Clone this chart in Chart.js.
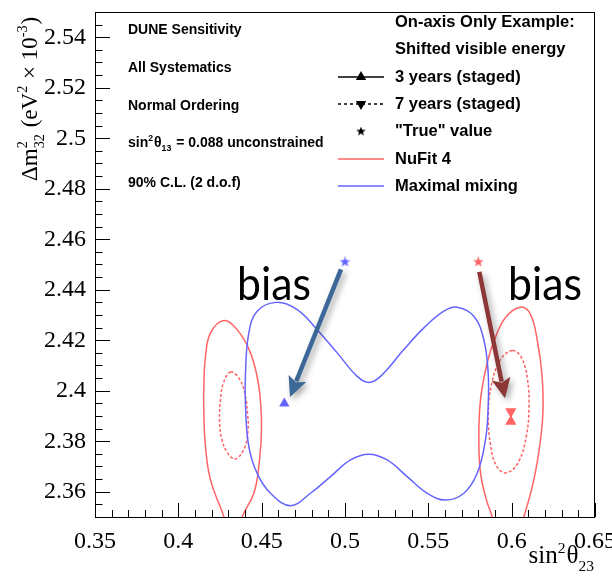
<!DOCTYPE html>
<html>
<head>
<meta charset="utf-8">
<script src="https://cdn.jsdelivr.net/npm/chart.js@4.4.1/dist/chart.umd.min.js"></script>
<style>
body{margin:0;background:#fff;}
canvas{display:block;}
</style>
</head>
<body>
<canvas id="myChart" width="612" height="577"></canvas>
<script>
// ------------------------------------------------------------------------------------------------- data section
var x_tick_values = [0.35, 0.40, 0.45, 0.50, 0.55, 0.60, 0.65];
var y_tick_values = [2.36, 2.38, 2.40, 2.42, 2.44, 2.46, 2.48, 2.50, 2.52, 2.54];

// NuFit 4 true value, 3 years (solid) and 7 years (dashed), lower octant island
var nufit_3yr_lo = [[0.4273,2.4278],[0.4353,2.4242],[0.4433,2.4150],[0.4483,2.4017],[0.4499,2.3858],[0.4483,2.3700],
    [0.4453,2.3594],[0.4383,2.3501],[0.4355,2.3440],[0.4325,2.3401],[0.4295,2.3440],[0.4273,2.3501],[0.4193,2.3647],
    [0.4163,2.3779],[0.4153,2.3912],[0.4153,2.4017],[0.4163,2.4136],[0.4193,2.4229]];
var nufit_7yr_lo = [[0.4313,2.4074],[0.4361,2.4052],[0.4397,2.3996],[0.4415,2.3913],[0.4418,2.3845],[0.4397,2.3774],
    [0.4343,2.3730],[0.4295,2.3754],[0.4259,2.3813],[0.4247,2.3885],[0.4253,2.3964],[0.4271,2.4032]];
// upper octant island
var nufit_3yr_hi = [[0.6053,2.4331],[0.6113,2.4302],[0.6153,2.4202],[0.6182,2.4063],[0.6188,2.3925],[0.6173,2.3806],
    [0.6133,2.3647],[0.6073,2.3501],[0.6029,2.3421],[0.5969,2.3361],[0.5909,2.3421],[0.5883,2.3501],[0.5849,2.3567],
    [0.5813,2.3675],[0.5803,2.3806],[0.5813,2.3964],[0.5853,2.4110],[0.5897,2.4202],[0.5963,2.4290]];
var nufit_7yr_hi = [[0.6005,2.4159],[0.6059,2.4131],[0.6095,2.4044],[0.6104,2.3933],[0.6089,2.3825],[0.6041,2.3718],
    [0.5969,2.3675],[0.5909,2.3702],[0.5873,2.3786],[0.5860,2.3905],[0.5879,2.4024],[0.5933,2.4123]];
// maximal mixing, 3 years
var maxmix_3yr = [[0.4589,2.4350],[0.4713,2.4321],[0.4833,2.4242],[0.4953,2.4150],[0.5073,2.4057],[0.5143,2.4033],
    [0.5213,2.4057],[0.5353,2.4163],[0.5473,2.4249],[0.5593,2.4315],[0.5673,2.4331],[0.5773,2.4295],[0.5833,2.4202],
    [0.5859,2.4070],[0.5859,2.3938],[0.5843,2.3806],[0.5793,2.3673],[0.5713,2.3594],[0.5603,2.3567],[0.5493,2.3594],
    [0.5373,2.3660],[0.5253,2.3726],[0.5143,2.3749],[0.5033,2.3726],[0.4913,2.3660],[0.4793,2.3594],[0.4673,2.3545],
    [0.4553,2.3594],[0.4473,2.3673],[0.4423,2.3779],[0.4403,2.3938],[0.4403,2.4070],[0.4423,2.4229],[0.4473,2.4315]];

// best fit points and true values
var maxmix_3yr_fit = [0.4636, 2.3950];
var nufit_3yr_fit = [0.5995, 2.3878];
var nufit_7yr_fit = [0.5995, 2.3918];
var maxmix_true = [0.50, 2.451];
var nufit_true = [0.58, 2.451];

// bias arrows: from true value towards fitted point
var bias_arrow_blue = [[0.4976, 2.4481], [0.4670, 2.3975]];
var bias_arrow_red = [[0.5806, 2.4471], [0.5960, 2.3970]];

var info_lines = ['DUNE Sensitivity', 'All Systematics', 'Normal Ordering', 'sin2theta13', '90% C.L. (2 d.o.f)'];
var legend_labels = ['On-axis Only Example:', 'Shifted visible energy', '3 years (staged)', '7 years (staged)',
    '"True" value', 'NuFit 4', 'Maximal mixing'];

var red_col = '#ff6363';
var blue_col = '#6464ff';

// -------------------------------------------------------------------------------------------------helpers
function to_pts(arr) {
    return arr.map(function (p) { return {x: p[0], y: p[1]}; });
}

function make_star(color, size) {
    var c = document.createElement('canvas');
    c.width = size; c.height = size;
    var g = c.getContext('2d');
    var R = size / 2, r = R * 0.42;
    g.fillStyle = color;
    g.beginPath();
    for (var i = 0; i < 10; i++) {
        var ang = -Math.PI / 2 + i * Math.PI / 5;
        var rad = (i % 2 == 0) ? R : r;
        g.lineTo(R + rad * Math.cos(ang), R + rad * Math.sin(ang));
    }
    g.closePath();
    g.fill();
    return c;
}

// draws text pieces with sup/sub, returns width
function rich(ctx, parts, x, y, size, family, weight, only_measure) {
    var cx = x;
    parts.forEach(function (p) {
        var mode = p[1] || '';
        if (mode == '') {
            ctx.font = weight + ' ' + size + 'px ' + family;
            if (!only_measure) ctx.fillText(p[0], cx, y);
            cx += ctx.measureText(p[0]).width;
        } else {
            ctx.font = weight + ' ' + (size * 0.62) + 'px ' + family;
            var w1 = 0, w2 = 0;
            if (mode == 'sup' || mode == 'supsub') {
                w1 = ctx.measureText(p[0]).width;
                if (!only_measure) ctx.fillText(p[0], cx, y - size * 0.42);
            }
            if (mode == 'sub') {
                w2 = ctx.measureText(p[0]).width;
                if (!only_measure) ctx.fillText(p[0], cx, y + size * 0.3);
            }
            if (mode == 'supsub') {
                w2 = ctx.measureText(p[2]).width;
                if (!only_measure) ctx.fillText(p[2], cx, y + size * 0.3);
            }
            cx += Math.max(w1, w2) + 1;
        }
    });
    return cx - x;
}

function triangle(ctx, x, y, r, down) {
    var s = down ? -1 : 1;
    ctx.beginPath();
    ctx.moveTo(x, y - s * r);
    ctx.lineTo(x + r * 0.866, y + s * r * 0.5);
    ctx.lineTo(x - r * 0.866, y + s * r * 0.5);
    ctx.closePath();
    ctx.fill();
}

function arrow(ctx, x0, y0, x1, y1, color) {
    var ang = Math.atan2(y1 - y0, x1 - x0);
    var head = 20, half = 9.5;
    var cs = Math.cos(ang), sn = Math.sin(ang);
    var bx = x1 - head * cs, by = y1 - head * sn;
    ctx.strokeStyle = color; ctx.fillStyle = color;
    ctx.lineWidth = 4.5; ctx.lineCap = 'butt';
    ctx.beginPath(); ctx.moveTo(x0, y0); ctx.lineTo(bx + 3 * cs, by + 3 * sn); ctx.stroke();
    ctx.beginPath();
    ctx.moveTo(x1, y1);
    ctx.lineTo(bx + half * sn, by - half * cs);
    ctx.lineTo(bx + 4 * cs, by + 4 * sn);
    ctx.lineTo(bx - half * sn, by + half * cs);
    ctx.closePath();
    ctx.fill();
}

function fmt(v) { return String(parseFloat(Number(v).toFixed(2))); }

// ------------------------------------------------------------------------------------------------ closed contours
var close_loops = {
    id: 'close_loops',
    afterDatasetUpdate: function (chart, args) {
        var ds = chart.data.datasets[args.index];
        if (ds.closed && args.meta.dataset) {
            args.meta.dataset._loop = true;
            args.meta.dataset._fullLoop = true;
        }
    }
};

// ------------------------------------------------------------------------------------------------ frame, ticks, texts
var deco = {
    id: 'deco',
    afterDraw: function (chart) {
        var ctx = chart.ctx, xs = chart.scales.x, ys = chart.scales.y, a = chart.chartArea;
        ctx.save();
        ctx.setLineDash([]);
        ctx.fillStyle = '#000';
        var L = Math.round(a.left), R = Math.round(a.right), T = Math.round(a.top), B = Math.round(a.bottom);
        ctx.fillRect(L, T, R - L, 1);
        ctx.fillRect(L, B, R - L, 1);
        ctx.fillRect(L, T, 1, B - T + 1);
        ctx.fillRect(R - 1, T, 1, B - T + 1);

        // inside ticks
        for (var i = 0; i <= 30; i++) {
            var px = Math.round(xs.getPixelForValue(0.35 + i * 0.01));
            var len = (i % 5 == 0) ? 14 : 7;
            ctx.fillRect(px, B - len, 1, len);
        }
        for (var j = 0; j <= 40; j++) {
            var py = Math.round(ys.getPixelForValue(2.35 + j * 0.005));
            var ylen = ((j - 2) % 4 == 0) ? 15 : 7.5;
            ctx.fillRect(L, py, ylen, 1);
        }

        // axis titles
        ctx.textBaseline = 'alphabetic'; ctx.textAlign = 'left';
        var serif = '"Liberation Serif", "Times New Roman", serif';
        var xt = [['sin'], ['2', 'sup'], ['\u03b8'], ['23', 'sub']];
        var wx = rich(ctx, xt, 0, 0, 25, serif, 'normal', true);
        rich(ctx, xt, R - wx, 563, 25, serif, 'normal');

        ctx.save();
        ctx.translate(37, 181);
        ctx.rotate(-Math.PI / 2);
        rich(ctx, [['\u0394m'], ['2', 'supsub', '32'], [' (eV'], ['2', 'sup'], [' \u00d7 10'], ['-3', 'sup'], [')']],
            0, 0, 23, serif, 'normal');
        ctx.restore();

        // info block (top left)
        var sans = '"Liberation Sans", Arial, sans-serif';
        var info_y = [34, 72, 110, 147, 187];
        for (var k = 0; k < info_lines.length; k++) {
            if (info_lines[k] == 'sin2theta13') {
                rich(ctx, [['sin'], ['2', 'sup'], ['\u03b8'], ['13', 'sub'], [' = 0.088 unconstrained']],
                    128, info_y[k], 14, sans, 'bold');
            } else {
                ctx.font = 'bold 14px ' + sans;
                ctx.fillText(info_lines[k], 128, info_y[k]);
            }
        }

        // legend (top right)
        var leg_y = [22, 49.5, 77, 104, 131.5, 159, 186];
        ctx.font = 'bold 16.5px ' + sans;
        ctx.textBaseline = 'middle';
        for (var m = 0; m < legend_labels.length; m++) {
            ctx.fillText(legend_labels[m], 395, leg_y[m]);
        }
        ctx.lineWidth = 1.5;
        ctx.strokeStyle = '#000';
        ctx.beginPath(); ctx.moveTo(338, leg_y[2]); ctx.lineTo(384, leg_y[2]); ctx.stroke();
        triangle(ctx, 361, leg_y[2], 6, false);
        ctx.setLineDash([3, 3]);
        ctx.beginPath(); ctx.moveTo(338, leg_y[3]); ctx.lineTo(384, leg_y[3]); ctx.stroke();
        ctx.setLineDash([]);
        triangle(ctx, 361, leg_y[3], 6, true);
        ctx.drawImage(make_star('#000', 10), 356, leg_y[4] - 5);
        ctx.strokeStyle = red_col;
        ctx.beginPath(); ctx.moveTo(338, leg_y[5]); ctx.lineTo(384, leg_y[5]); ctx.stroke();
        ctx.strokeStyle = blue_col;
        ctx.beginPath(); ctx.moveTo(338, leg_y[6]); ctx.lineTo(384, leg_y[6]); ctx.stroke();

        // bias arrows with soft shadow
        ctx.shadowColor = 'rgba(0,0,0,0.35)';
        ctx.shadowBlur = 6; ctx.shadowOffsetX = 3; ctx.shadowOffsetY = 3;
        [[bias_arrow_blue, '#3c6897'], [bias_arrow_red, '#8c3636']].forEach(function (b) {
            var p0 = b[0][0], p1 = b[0][1];
            arrow(ctx, xs.getPixelForValue(p0[0]), ys.getPixelForValue(p0[1]),
                xs.getPixelForValue(p1[0]), ys.getPixelForValue(p1[1]), b[1]);
        });
        ctx.shadowColor = 'rgba(0,0,0,0)';

        ctx.fillStyle = '#000';
        ctx.textBaseline = 'alphabetic';
        ctx.font = '46px Lato, "Open Sans", sans-serif';
        ctx.fillText('bias', 237, 300, 74);
        ctx.fillText('bias', 508, 300, 74);
        ctx.restore();
    }
};

// ------------------------------------------------------------------------------------------------ chart
var star_blue = make_star(blue_col, 11);
var star_red = make_star(red_col, 11);

function contour(label, arr, color, dashed) {
    return {
        label: label,
        data: to_pts(arr),
        closed: true,
        showLine: true,
        borderColor: color,
        borderWidth: 1.5,
        borderDash: dashed ? [3, 2] : [],
        tension: 0.4,
        pointRadius: 0,
        fill: false,
        clip: 0
    };
}

function marker(label, p, style, color, rot, r) {
    return {
        label: label,
        data: [{x: p[0], y: p[1]}],
        showLine: false,
        pointStyle: style,
        rotation: rot,
        pointRadius: r,
        backgroundColor: color,
        borderColor: color,
        borderWidth: 0
    };
}

const ctx = document.getElementById('myChart').getContext('2d');
const myChart = new Chart(ctx, {
    type: 'scatter',
    data: {
        datasets: [
            marker('Maximal mixing 3 years best fit', maxmix_3yr_fit, 'triangle', blue_col, 0, 6),
            marker('NuFit 4 3 years best fit', nufit_3yr_fit, 'triangle', red_col, 0, 6.5),
            marker('NuFit 4 7 years best fit', nufit_7yr_fit, 'triangle', red_col, 180, 6.5),
            marker('Maximal mixing true', maxmix_true, star_blue, blue_col, 0, 6),
            marker('NuFit 4 true', nufit_true, star_red, red_col, 0, 6),
            contour('Maximal mixing 3 years', maxmix_3yr, blue_col, false),
            contour('NuFit 4 3 years (lo)', nufit_3yr_lo, red_col, false),
            contour('NuFit 4 7 years (lo)', nufit_7yr_lo, red_col, true),
            contour('NuFit 4 3 years (hi)', nufit_3yr_hi, red_col, false),
            contour('NuFit 4 7 years (hi)', nufit_7yr_hi, red_col, true)
        ]
    },
    options: {
        responsive: false,
        animation: false,
        events: [],
        layout: {autoPadding: false, padding: {left: 0, right: 17, top: 12, bottom: 0}},
        plugins: {legend: {display: false}, tooltip: {enabled: false}},
        scales: {
            x: {
                type: 'linear', min: 0.35, max: 0.65,
                grid: {display: false, drawTicks: false},
                border: {display: false},
                ticks: {
                    color: '#000', padding: 10, maxRotation: 0, autoSkip: false,
                    font: {family: '"Liberation Serif", serif', size: 24},
                    callback: fmt
                },
                afterBuildTicks: function (s) { s.ticks = x_tick_values.map(function (v) { return {value: v}; }); },
                afterFit: function (s) { s.height = 60; s.paddingLeft = 0; s.paddingRight = 0; }
            },
            y: {
                type: 'linear', min: 2.35, max: 2.55,
                grid: {display: false, drawTicks: false},
                border: {display: false},
                ticks: {
                    color: '#000', padding: 9, autoSkip: false,
                    font: {family: '"Liberation Serif", serif', size: 24},
                    callback: fmt
                },
                afterBuildTicks: function (s) { s.ticks = y_tick_values.map(function (v) { return {value: v}; }); },
                afterFit: function (s) { s.width = 95; s.paddingTop = 0; s.paddingBottom = 0; }
            }
        }
    },
    plugins: [close_loops, deco]
});
</script>
</body>
</html>
